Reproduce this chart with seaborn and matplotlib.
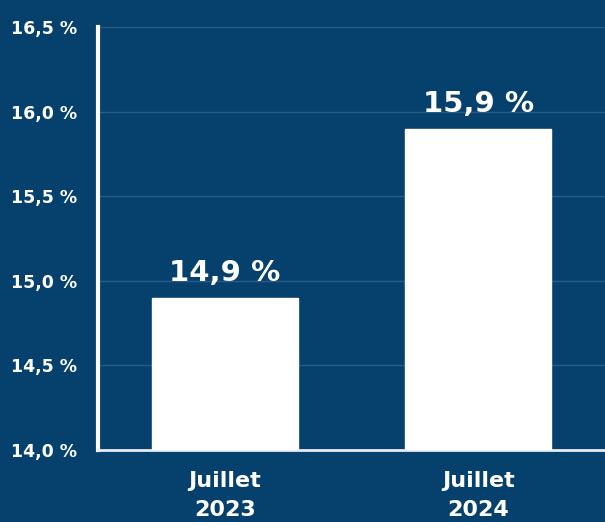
import matplotlib
matplotlib.use('Agg')
import matplotlib.pyplot as plt
import pandas as pd
import seaborn as sns

# Data
periods = ['Juillet\n2023', 'Juillet\n2024']
rates = [14.9, 15.9]
yticks = [14.0, 14.5, 15.0, 15.5, 16.0, 16.5]

bg = '#06416E'
sns.set_style('white')
plt.rcParams['font.family'] = ['DejaVu Sans']

df = pd.DataFrame({'period': periods, 'rate': rates})

fig = plt.figure(figsize=(6.05, 5.22), dpi=100, facecolor=bg)
ax = fig.add_axes([0.162, 0.138, 0.838, 0.81])
ax.set_facecolor(bg)

sns.barplot(data=df, x='period', y='rate', color='white', saturation=1,
            width=0.575, ax=ax, zorder=3)

ax.set_ylim(14.0, 16.5)
ax.set_xlim(-0.5, 1.5)
ax.set_yticks(yticks)
ax.set_yticklabels([f'{t:.1f} %'.replace('.', ',') for t in yticks],
                   fontsize=12.5, fontweight='bold', color='white')
ax.tick_params(axis='y', length=0, pad=15)
ax.tick_params(axis='x', length=0, pad=15, labelsize=16, labelcolor='white')
for lab in ax.get_xticklabels():
    lab.set_fontweight('bold')
    lab.set_linespacing(1.55)

ax.grid(axis='y', color='#2A5B87', linewidth=1, zorder=0)
ax.set_axisbelow(True)
ax.set_xlabel('')
ax.set_ylabel('')

for s in ['top', 'right']:
    ax.spines[s].set_visible(False)
ax.spines['left'].set_color('white')
ax.spines['left'].set_linewidth(3)
ax.spines['bottom'].set_color('#E6ECF2')
ax.spines['bottom'].set_linewidth(2)

for i, v in enumerate(rates):
    ax.annotate(f'{v:.1f} %'.replace('.', ','), xy=(i, v), xytext=(0, 8),
                textcoords='offset points', ha='center', va='bottom',
                fontsize=21, fontweight='bold', color='white')

fig.savefig('out.png', dpi=100, facecolor=bg)
